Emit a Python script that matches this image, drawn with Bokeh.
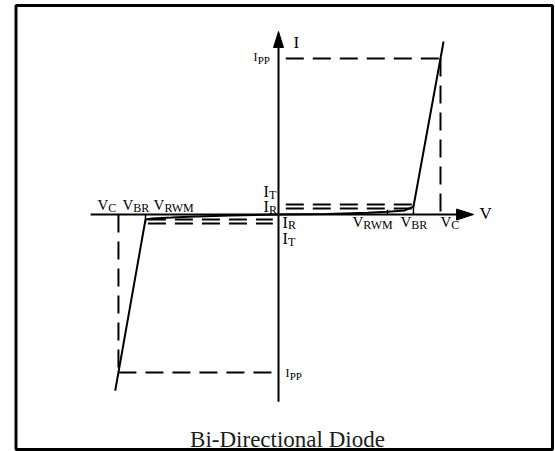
from bokeh.plotting import figure
from bokeh.models import Range1d, BoxAnnotation
from bokeh.core.properties import value
from bokeh.embed import file_html
from bokeh.resources import INLINE

# ---- diagram values (arbitrary units) ----
V_C = 10.0
V_BR = 8.33
V_RWM = 6.73
V_C_NEG = -9.88
V_BR_NEG = -8.21
V_RWM_NEG = -6.6
I_PP = 10.0
I_PP_NEG = -10.13
I_T = 0.64
I_R = 0.38
I_R_NEG = -0.32
I_T_NEG = -0.58

# I-V characteristic of the bi-directional diode
curve_pos_v = [0.0, 3.0, 5.5, V_RWM, 7.8, V_BR, 10.19]
curve_pos_i = [0.0, 0.04, 0.12, 0.18, 0.26, 0.5, 11.09]
curve_neg_v = [0.0, -3.0, -5.5, V_RWM_NEG, -7.8, V_BR_NEG, -10.08]
curve_neg_i = [0.0, -0.06, -0.14, -0.2, -0.26, -0.32, -11.3]

V_AXIS = [-11.6, 12.04]
I_AXIS = [-12.0, 11.73]

TITLE = "Bi-Directional Diode"

# ---- layout helpers (pixels per unit, origin pixel position) ----
KX, KY = 16.2, 15.6
OX, OY = 278, 214
W, H = 555, 451
BOX_L, BOX_R, BOX_T, BOX_B = 15.5, 552, 5, 449

p = figure(width=W, height=H, output_backend="svg", toolbar_location=None,
           min_border=0,
           x_range=Range1d((0 - OX) / KX, (W - OX) / KX),
           y_range=Range1d((OY - H) / KY, (OY - 0) / KY))
p.axis.visible = False
p.grid.visible = False
p.outline_line_color = None
p.background_fill_color = "white"
p.border_fill_color = "white"

# outer frame box
p.add_layout(BoxAnnotation(left=(BOX_L - OX) / KX, right=(BOX_R - OX) / KX,
                           top=(OY - BOX_T) / KY, bottom=(OY - BOX_B) / KY,
                           fill_alpha=0, line_color="black", line_width=3,
                           line_alpha=1))

# axes (stop at arrow base)
ah_len_v, ah_half_v = 17, 5.5
ah_len_i, ah_half_i = 16, 5
p.line([V_AXIS[0], V_AXIS[1] - ah_len_v / KX], [0, 0], line_color="black", line_width=2)
p.line([0, 0], [I_AXIS[0], I_AXIS[1] - ah_len_i / KY], line_color="black", line_width=2)
p.patch([V_AXIS[1], V_AXIS[1] - ah_len_v / KX, V_AXIS[1] - ah_len_v / KX],
        [0, ah_half_v / KY, -ah_half_v / KY], color="black")
p.patch([0, ah_half_i / KX, -ah_half_i / KX],
        [I_AXIS[1], I_AXIS[1] - ah_len_i / KY, I_AXIS[1] - ah_len_i / KY], color="black")

# dashed reference lines
gap_v = 0.45
dash = "18 9"
dkw = dict(line_color="black", line_width=2, line_dash=dash)
p.line([gap_v, V_C], [I_PP, I_PP], **dkw)
p.line([V_C, V_C], [I_PP, 0], **dkw)
p.line([gap_v, V_BR], [I_T, I_T], **dkw)
p.line([gap_v, V_BR], [I_R, I_R], **dkw)
p.line([V_BR_NEG + 0.15, -gap_v + 0.1], [I_R_NEG, I_R_NEG], **dkw)
p.line([V_BR_NEG + 0.15, -gap_v + 0.1], [I_T_NEG, I_T_NEG], **dkw)
p.line([V_C_NEG, V_C_NEG], [0, I_PP_NEG], **dkw)
p.line([V_C_NEG, -gap_v + 0.1], [I_PP_NEG, I_PP_NEG], **dkw)

# markers at V_RWM / V_BR
p.segment(x0=[V_RWM, V_BR, V_BR_NEG], y0=[0, 0, 0],
          x1=[V_RWM, V_BR, V_BR_NEG], y1=[0.3, I_T, I_T_NEG],
          line_color="black", line_width=1.5)

# characteristic curve
p.line(curve_pos_v, curve_pos_i, line_color="black", line_width=2)
p.line(curve_neg_v, curve_neg_i, line_color="black", line_width=2)

FONT = value("Liberation Serif")
BASE_FIX = -6  # svg text baseline correction

def label(ax, ay, dx, dy, main, sub, size, sub_size, main_w):
    p.text(x=[ax], y=[ay], text=[main], x_offset=dx, y_offset=dy + BASE_FIX,
           text_font=FONT, text_font_size=f"{size}px", text_color="black",
           text_align="left", text_baseline="alphabetic")
    if sub:
        p.text(x=[ax], y=[ay], text=[sub], x_offset=dx + main_w, y_offset=dy + 3 + BASE_FIX,
               text_font=FONT, text_font_size=f"{sub_size}px", text_color="black",
               text_align="left", text_baseline="alphabetic")

VW, IW = 10.8, 5.5
label(V_C_NEG, 0, -21, -4, "V", "C", 15, 12, VW)
label(V_BR_NEG, 0, -23, -4, "V", "BR", 15, 12, VW)
label(V_RWM_NEG, 0, -18, -4, "V", "RWM", 15, 12, VW)
label(0, I_T, -15, -7, "I", "T", 16, 12, IW)
label(0, I_R, -15, 4, "I", "R", 16, 12, IW)
label(0, I_R_NEG, 4, 9, "I", "R", 16, 12, IW)
label(0, I_T_NEG, 4, 21, "I", "T", 16, 12, IW)
label(V_RWM, 0, -35, 13, "V", "RWM", 15, 12, VW)
label(V_BR, 0, -13, 13, "V", "BR", 15, 12, VW)
label(V_C, 0, 0, 13, "V", "C", 15, 12, VW)
label(V_AXIS[1], 0, 6, 5, "V", None, 17, 0, 0)
label(0, I_AXIS[1], 15, 17, "I", None, 17, 0, 0)
label(0, I_PP, -25, 4, "I", "PP", 12, 11, 4.2)
label(0, I_PP_NEG, 7, 6, "I", "PP", 12, 11, 4.2)

p.text(x=[0], y=[I_AXIS[0]], text=[TITLE], x_offset=9, y_offset=44 + BASE_FIX,
       text_font=FONT, text_font_size="23px", text_color="#1c1c1c",
       text_align="center", text_baseline="alphabetic")

open("out.html", "w").write(file_html(p, INLINE))
